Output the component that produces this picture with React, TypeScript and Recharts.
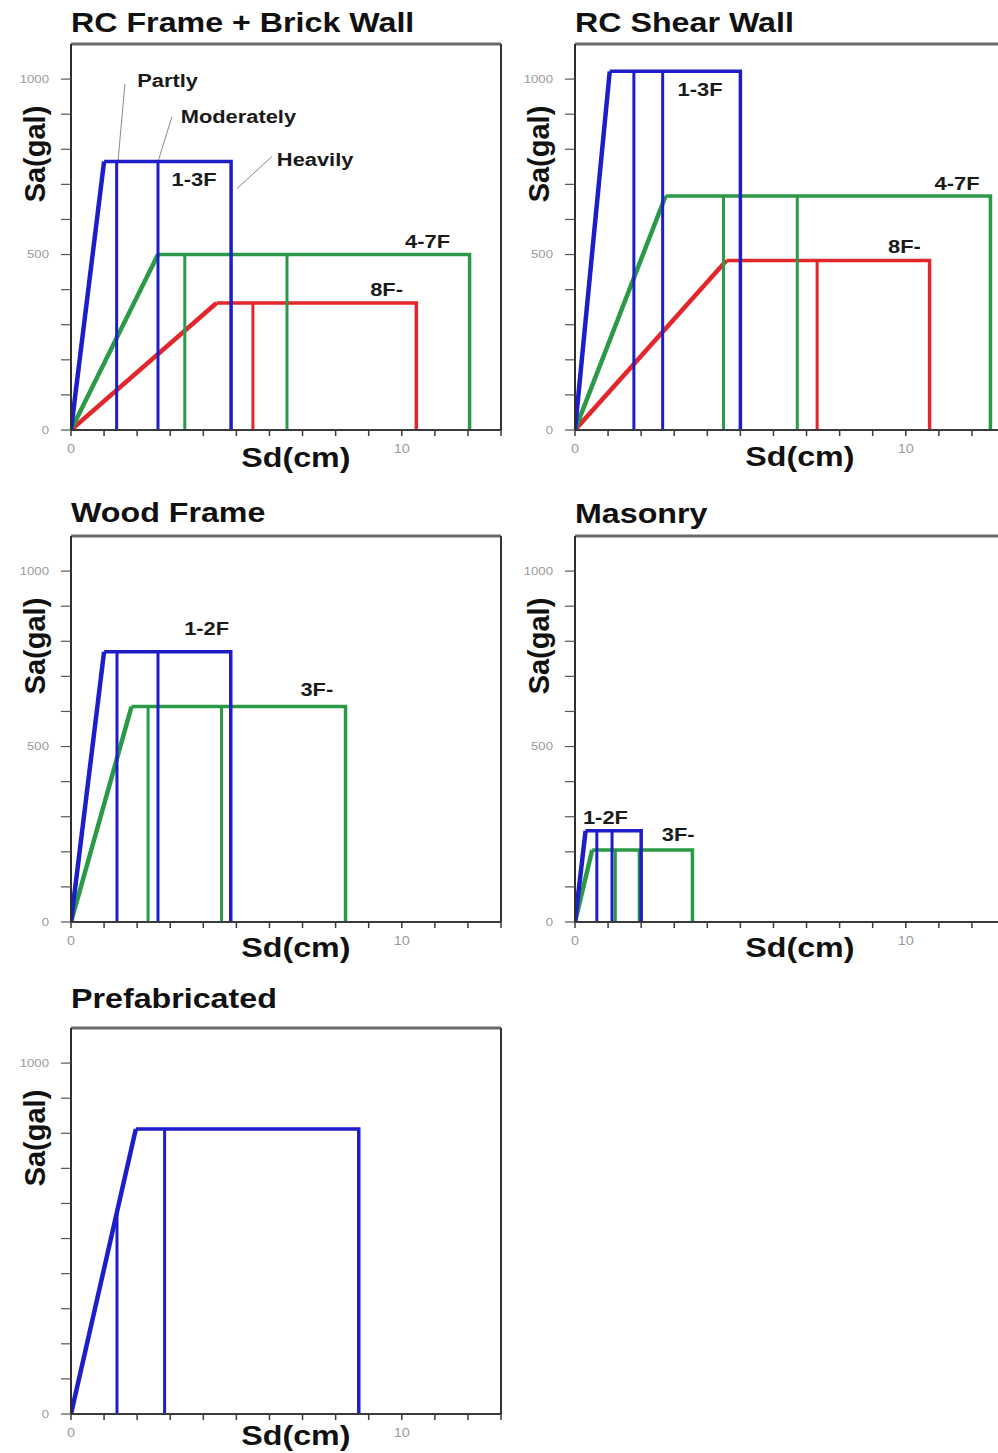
import React from 'react';
import { ComposedChart, Line, XAxis, YAxis, ReferenceLine, ReferenceDot } from 'recharts';

const FONT = '"Liberation Sans", Arial, Helvetica, sans-serif';
const BLUE = '#1d1dc9';
const GREEN = '#2a9a46';
const RED = '#e2262b';

// axes: Sd in cm, Sa in gal
const SD_MAX = 13;
const SA_MAX = 1100;
const sdTicks = [0, 1, 2, 3, 4, 5, 6, 7, 8, 9, 10, 11, 12, 13];
const sdTickLabels = [0, 10];
const saTicks = [0, 100, 200, 300, 400, 500, 600, 700, 800, 900, 1000];
const saTickLabels = [0, 500, 1000];
const saTickLabelsPrefab = [0, 1000];

// capacity curves: yield Sd, plateau Sa, ultimate Sd, and the damage level Sd's in between
const rcFrameCurves = [
  { name: '1-3F', sdY: 1.0, sa: 765, sdU: 4.84, levels: [1.38, 2.63] },
  { name: '4-7F', sdY: 2.63, sa: 500, sdU: 12.05, levels: [3.44, 6.53] },
  { name: '8F-', sdY: 4.4, sa: 362, sdU: 10.44, levels: [5.5] },
];
const rcShearCurves = [
  { name: '1-3F', sdY: 1.05, sa: 1022, sdU: 5.0, levels: [1.78, 2.65] },
  { name: '4-7F', sdY: 2.74, sa: 667, sdU: 12.56, levels: [4.49, 6.72] },
  { name: '8F-', sdY: 4.58, sa: 483, sdU: 10.72, levels: [7.32] },
];
const woodCurves = [
  { name: '1-2F', sdY: 1.0, sa: 770, sdU: 4.83, levels: [1.39, 2.63] },
  { name: '3F-', sdY: 1.83, sa: 614, sdU: 8.3, levels: [2.33, 4.55] },
];
const masonryCurves = [
  { name: '1-2F', sdY: 0.32, sa: 260, sdU: 2.0, levels: [0.66, 1.12] },
  { name: '3F-', sdY: 0.52, sa: 205, sdU: 3.55, levels: [1.22, 1.94] },
];
const prefabCurves = [
  { name: '', sdY: 1.96, sa: 812, sdU: 8.7, levels: [1.39, 2.83] },
];

// text annotations (data units)
const rcFrameNotes = [
  { text: '1-3F', x: 3.72, y: 715 },
  { text: '4-7F', x: 10.78, y: 538 },
  { text: '8F-', x: 9.54, y: 401 },
  { text: 'Partly', x: 2.92, y: 997 },
  { text: 'Moderately', x: 5.06, y: 894 },
  { text: 'Heavily', x: 7.38, y: 772 },
];
const rcFrameLeaders = [
  [{ x: 1.63, y: 986 }, { x: 1.42, y: 765 }],
  [{ x: 3.05, y: 892 }, { x: 2.63, y: 765 }],
  [{ x: 6.07, y: 779 }, { x: 5.02, y: 688 }],
];
const rcShearNotes = [
  { text: '1-3F', x: 3.78, y: 973 },
  { text: '4-7F', x: 11.55, y: 704 },
  { text: '8F-', x: 9.96, y: 524 },
];
const woodNotes = [
  { text: '1-2F', x: 4.1, y: 837 },
  { text: '3F-', x: 7.43, y: 664 },
];
const masonryNotes = [
  { text: '1-2F', x: 0.92, y: 300 },
  { text: '3F-', x: 3.12, y: 250 },
];

const panels = [
  { title: 'RC Frame + Brick Wall', curves: rcFrameCurves, colors: [BLUE, GREEN, RED], notes: rcFrameNotes, leaders: rcFrameLeaders, saLabels: saTickLabels, left: 0, top: 0, titleTop: 9, sdGap: 27 },
  { title: 'RC Shear Wall', curves: rcShearCurves, colors: [BLUE, GREEN, RED], notes: rcShearNotes, leaders: [], saLabels: saTickLabels, left: 504, top: 0, titleTop: 9, sdGap: 26 },
  { title: 'Wood Frame', curves: woodCurves, colors: [BLUE, GREEN], notes: woodNotes, leaders: [], saLabels: saTickLabels, left: 0, top: 492, titleTop: 7, sdGap: 25 },
  { title: 'Masonry', curves: masonryCurves, colors: [BLUE, GREEN], notes: masonryNotes, leaders: [], saLabels: saTickLabels, left: 504, top: 492, titleTop: 8, sdGap: 25 },
  { title: 'Prefabricated', curves: prefabCurves, colors: [BLUE], notes: [], leaders: [], saLabels: saTickLabelsPrefab, left: 0, top: 984, titleTop: 1, sdGap: 21 },
];

type Curve = { name: string; sdY: number; sa: number; sdU: number; levels: number[] };

const capacityAt = (c: Curve, sd: number) => (sd >= c.sdY ? c.sa : (c.sa * sd) / c.sdY);

const SdTick = (props: any) => {
  const { x, y, payload } = props;
  if (!sdTickLabels.includes(payload.value)) return <g />;
  return (
    <text transform={`translate(${x},${y}) scale(1.2,1)`} textAnchor="middle" dy="0.71em" fontFamily={FONT} fontSize={12} fill="#9a9a9a">
      {payload.value}
    </text>
  );
};

const makeSaTick = (labels: number[]) => (props: any) => {
  const { x, y, payload } = props;
  if (!labels.includes(payload.value)) return <g />;
  return (
    <text transform={`translate(${x},${y}) scale(1.2,1)`} textAnchor="end" dy="0.35em" fontFamily={FONT} fontSize={11} fill="#9a9a9a">
      {payload.value}
    </text>
  );
};

const SdTitle = (props: any) => {
  const { x, y, width } = props.viewBox;
  return (
    <text transform={`translate(${x + width * 0.523},${y + props.gap}) scale(1.15,1)`} textAnchor="middle" dominantBaseline="central" fontFamily={FONT} fontWeight="bold" fontSize={28} fill="#111">
      Sd(cm)
    </text>
  );
};

const SaTitle = (props: any) => {
  const { x, y, width, height } = props.viewBox;
  const cx = x + width - 36;
  const cy = y + height * 0.285;
  return (
    <text transform={`translate(${cx},${cy}) rotate(-90)`} textAnchor="middle" dominantBaseline="central" fontFamily={FONT} fontWeight="bold" fontSize={29} fill="#111">
      Sa(gal)
    </text>
  );
};

const NoteText = ({ viewBox, text }: any) => {
  const cx = viewBox.x + (viewBox.width || 0) / 2;
  const cy = viewBox.y + (viewBox.height || 0) / 2;
  return (
    <text transform={`translate(${cx},${cy}) scale(1.15,1)`} textAnchor="middle" dominantBaseline="central" fontFamily={FONT} fontWeight="bold" fontSize={19} fill="#1a1a1a">
      {text}
    </text>
  );
};

const Panel = ({ cfg }: { cfg: (typeof panels)[number] }) => {
  const order = cfg.curves.map((_, i) => i).reverse();
  return (
    <div style={{ position: 'absolute', left: cfg.left, top: cfg.top }}>
      <div
        style={{
          position: 'absolute',
          left: 71,
          top: cfg.titleTop,
          fontFamily: FONT,
          fontWeight: 'bold',
          fontSize: 28,
          lineHeight: '28px',
          color: '#111',
          whiteSpace: 'nowrap',
          transform: 'scaleX(1.15)',
          transformOrigin: 'left',
        }}
      >
        {cfg.title}
      </div>
      <ComposedChart width={520} height={480} margin={{ top: 44, right: 19, bottom: 10, left: 11 }}>
        <XAxis
          type="number"
          dataKey="x"
          domain={[0, SD_MAX]}
          ticks={sdTicks}
          interval={0}
          allowDataOverflow
          height={40}
          tickSize={6}
          tickMargin={8}
          axisLine={{ stroke: '#3a3a3a', strokeWidth: 2 }}
          tickLine={{ stroke: '#3a3a3a', strokeWidth: 1.5 }}
          tick={SdTick}
          label={<SdTitle gap={cfg.sdGap} />}
        />
        <YAxis
          type="number"
          domain={[0, SA_MAX]}
          ticks={saTicks}
          interval={0}
          allowDataOverflow
          width={60}
          tickSize={10}
          tickMargin={12}
          axisLine={{ stroke: '#2e2e2e', strokeWidth: 2 }}
          tickLine={{ stroke: '#555', strokeWidth: 1.2 }}
          tick={makeSaTick(cfg.saLabels)}
          label={<SaTitle />}
        />
        <ReferenceLine y={SA_MAX} stroke="#6a6a6a" strokeWidth={3} />
        <ReferenceLine x={SD_MAX} stroke="#333" strokeWidth={2} />
        {cfg.leaders.map((seg, i) => (
          <ReferenceLine key={`ld${i}`} segment={seg} stroke="#8a8a8a" strokeWidth={1} />
        ))}
        {order.flatMap((i) => {
          const c = cfg.curves[i];
          const color = cfg.colors[i];
          const elastic = [{ x: 0, y: 0 }, { x: c.sdY, y: c.sa }];
          const plateau = [{ x: c.sdY, y: c.sa }, { x: c.sdU, y: c.sa }, { x: c.sdU, y: 0 }];
          return [
            <Line key={`e${i}`} data={elastic} dataKey="y" type="linear" stroke={color} strokeWidth={4.5} dot={false} activeDot={false} isAnimationActive={false} />,
            <Line key={`p${i}`} data={plateau} dataKey="y" type="linear" stroke={color} strokeWidth={3.5} dot={false} activeDot={false} isAnimationActive={false} />,
            ...c.levels.map((sd, j) => (
              <Line
                key={`l${i}-${j}`}
                data={[{ x: sd, y: 0 }, { x: sd, y: capacityAt(c, sd) }]}
                dataKey="y"
                type="linear"
                stroke={color}
                strokeWidth={3}
                dot={false}
                activeDot={false}
                isAnimationActive={false}
              />
            )),
          ];
        })}
        {cfg.notes.map((n, i) => (
          <ReferenceDot
            key={`n${i}`}
            x={n.x}
            y={n.y}
            r={0}
            fill="none"
            stroke="none"
            label={{ content: (p: any) => <NoteText viewBox={p.viewBox} text={n.text} /> }}
          />
        ))}
      </ComposedChart>
    </div>
  );
};

export default function App() {
  return (
    <div style={{ position: 'fixed', left: 0, top: 0, width: 998, height: 1453, overflow: 'hidden', background: '#fff' }}>
      {panels.map((p) => (
        <Panel key={p.title} cfg={p} />
      ))}
    </div>
  );
}
